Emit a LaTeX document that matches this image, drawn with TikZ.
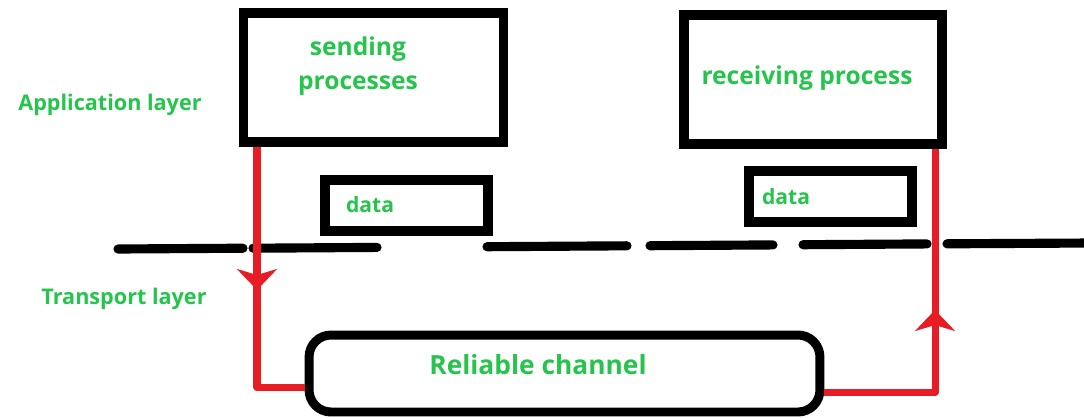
\documentclass[tikz,border=0pt]{standalone}
\usepackage{fontspec}
\setmainfont{Open Sans}
\usetikzlibrary{arrows.meta}
\definecolor{lgreen}{RGB}{38,196,76}
\definecolor{lred}{RGB}{232,28,36}
\tikzset{
	lbl/.style={text=lgreen, font=\bfseries\fontsize{12.3}{14}\selectfont, inner sep=0pt},
	big/.style={text=lgreen, font=\bfseries\fontsize{14}{19}\selectfont, inner sep=0pt, align=center},
	procbox/.style={draw, line width=5.6pt, minimum width=5.2cm, minimum height=2.58cm},
	databox/.style={draw, line width=5.6pt, minimum width=3.26cm, minimum height=1.02cm},
	flow/.style={draw=lred, line width=4pt, line join=round},
	midtip/.style={-{Stealth[length=0.42cm, width=0.8cm, inset=0.12cm]}},
	borderdash/.style={line width=5.2pt, line cap=round}
}
\begin{document}
\begin{tikzpicture}[x=0.02cm, y=-0.02cm]
	\useasboundingbox (0,0) rectangle (1084,417);
	% boxes
	\node[procbox] (send) at (373.5,77.5) {};
	\node[procbox, minimum width=5.16cm] (recv) at (813,79.5) {};
	\node[databox] (data1) at (406.5,205.5) {};
	\node[databox] (data2) at (830.5,196.5) {};
	\node[draw, line width=5.1pt, rounded corners=0.44cm, minimum width=10.22cm, minimum height=1.54cm] (chan) at (564.5,373.5) {};
	% texts
	\node[lbl] (app) at (110,105) {Application layer};
	\node[lbl] (trans) at (124,299) {Transport layer};
	\node[big] (sendtxt) at (358,66) {sending\\processes};
	\node[big] (recvtxt) at (807,78) {receiving process};
	\node[lbl, font=\bfseries\fontsize{12}{14}\selectfont] (d1txt) at (370,205) {data};
	\node[lbl, font=\bfseries\fontsize{12}{14}\selectfont] (d2txt) at (786,197) {data};
	\node[lbl, font=\bfseries\fontsize{15}{17}\selectfont] (chantxt) at (538,365) {Reliable channel};
	% layer border
	\foreach \a/\b/\c/\d in {118/249/243/248.2, 253/248.2/377/247.4, 487/246.7/627/245.8, 650/245.7/773/244.9, 803/244.7/927/243.9, 947/243.8/1090/243}
		\draw[borderdash] (\a,\b) -- (\c,\d);
	% red paths
	\coordinate (sx) at (257,0);
	\coordinate (rx) at (935,0);
	\draw[flow] (send.south -| sx) |- ([yshift=-0.28cm]chan.west);
	\draw[flow, midtip] (send.south -| sx) -- (257,290);
	\draw[flow] ([yshift=-0.38cm]chan.east) -| (recv.south -| rx);
	\draw[flow, midtip] ([yshift=-0.38cm]chan.east -| rx) -- (935,310);
\end{tikzpicture}
\end{document}
